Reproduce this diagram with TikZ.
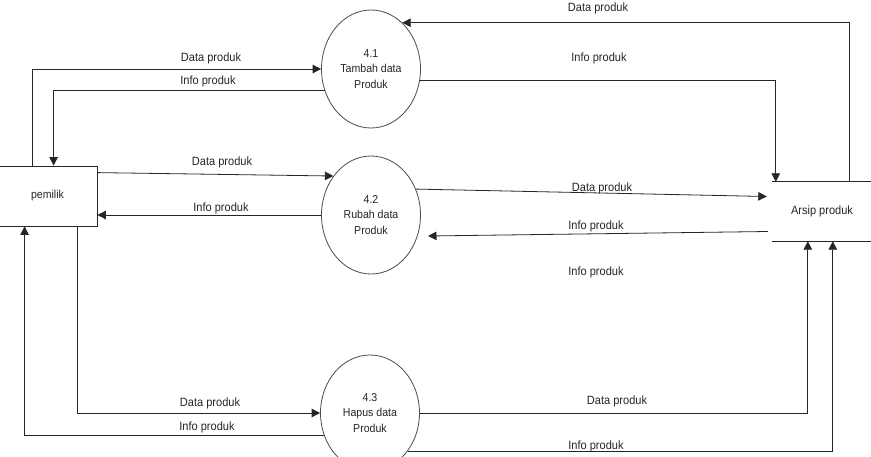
\documentclass[tikz,border=0pt]{standalone}
\usepackage{fontspec}
\setmainfont{Liberation Sans}[FakeStretch=0.92]
\usetikzlibrary{shapes.geometric,arrows.meta}
\begin{document}
\begin{tikzpicture}[x=1pt,y=-1pt,
  flow/.style={draw=black!85,line width=0.8pt,-{Triangle[length=8.5pt,width=8.5pt]}},
  proc/.style={ellipse,draw=black!70,line width=0.8pt,minimum width=99pt,minimum height=118pt,inner sep=0pt,align=center,font=\fontsize{11.5}{15.5}\selectfont,text=black!85},
  lab/.style={font=\fontsize{12}{13}\selectfont,text=black!85,inner sep=0pt},
  ent/.style={draw=black!85,line width=0.8pt,minimum width=99pt,minimum height=60pt,inner sep=0pt,font=\fontsize{11.5}{13}\selectfont,text=black!85}]
\useasboundingbox (0,0) rectangle (871,456);
\fill[white] (0,0) rectangle (871,456);
% entities
\node[ent] (pem) at (47.5,196) {pemilik};
\node[minimum width=100pt,minimum height=59pt,inner sep=0pt,font=\fontsize{12}{13}\selectfont,text=black!85] (arsip) at (822,211.5) {Arsip produk};
\draw[black!85,line width=0.8pt] (arsip.north west) -- (arsip.north east);
\draw[black!85,line width=0.8pt] (arsip.south west) -- (arsip.south east);
% processes
\node[proc] (p41) at (371,69) {4.1\\Tambah data\\Produk};
\node[proc] (p42) at (371,215) {4.2\\Rubah data\\Produk};
\node[proc,minimum height=116pt] (p43) at (370,413) {4.3\\Hapus data\\Produk};
% flows pemilik <-> 4.1
\draw[flow] ([xshift=35pt]pem.north west) |- (p41.west);
\draw[flow] (p41.205.8) -| ([xshift=56pt]pem.north west);
% flows pemilik <-> 4.2
\draw[flow] ([yshift=-7pt]pem.north east) -- (p42.134.6);
\draw[flow] (p42.west) -- (pem.east |- p42.west);
% flows pemilik <-> 4.3
\draw[flow] ([xshift=80pt]pem.south west) |- (p43.west);
\draw[flow] (p43.206.9) -| ([xshift=27pt]pem.south west);
% flows 4.1 <-> arsip
\draw[flow] ([xshift=78pt]arsip.north west) |- (p41.56.3);
\draw[flow] (p41.-13.7) -| ([xshift=4pt]arsip.north west);
% flows 4.2 <-> arsip
\coordinate (a9) at ([xshift=-5pt,yshift=15pt]arsip.west);
\draw[flow] (p42.30.6) -- (a9);
\coordinate (a10s) at ([xshift=-4pt,yshift=-20pt]arsip.west);
\coordinate (a10e) at ([xshift=57pt,yshift=-21pt]p42.center);
\draw[flow] (a10s) -- (a10e);
% flows 4.3 -> arsip
\draw[flow] (p43.east) -| ([xshift=36pt]arsip.south west);
\draw[flow] (p43.-45.5) -| ([xshift=61pt]arsip.south west);
% labels
\node[lab] (l1) at (211,58) {Data produk};
\node[lab] (l2) at (208,81) {Info produk};
\node[lab] (l3) at (222,162) {Data produk};
\node[lab] (l4) at (221,208) {Info produk};
\node[lab] (l5) at (210,403) {Data produk};
\node[lab] (l6) at (207,427) {Info produk};
\node[lab] (l7) at (598,8) {Data produk};
\node[lab] (l8) at (599,58) {Info produk};
\node[lab] (l9) at (602,188) {Data produk};
\node[lab] (l10) at (596,226) {Info produk};
\node[lab] (l11) at (596,272) {Info produk};
\node[lab] (l12) at (617,401) {Data produk};
\node[lab] (l13) at (596,446) {Info produk};
\end{tikzpicture}
\end{document}
